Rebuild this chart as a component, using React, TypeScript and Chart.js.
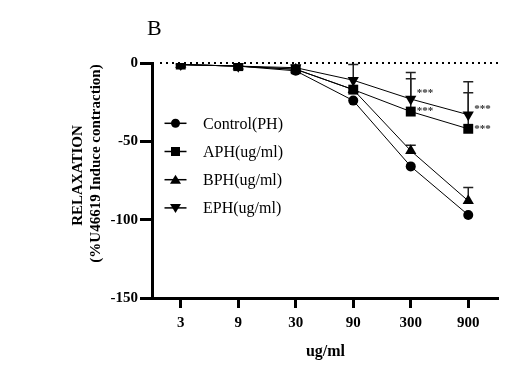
import React, { useEffect, useRef } from "react";
import { Chart, registerables } from "chart.js";

Chart.register(...registerables);

const categories = ["3", "9", "30", "90", "300", "900"];
const yTicks = [0, -50, -100, -150];

const controlValues = [-1, -2, -5, -24, -66, -97];
const aphValues = [-1, -2, -4, -17, -31, -42];
const bphValues = [-1, -2, -4, -17, -56, -88];
const ephValues = [-1, -2, -3, -11, -23, -33];

const controlErr = [0, 0, 0, 0, 0, 0];
const aphErr = [0, 0, 0, 0, 21, 23];
const bphErr = [0, 0, 0, 0, 3.5, 8.5];
const ephErr = [0, 0, 0, 10, 17, 21];

const controlSig = ["", "", "", "", "", ""];
const aphSig = ["", "", "", "", "***", "***"];
const bphSig = ["", "", "", "", "", ""];
const ephSig = ["", "", "", "", "***", "***"];

const seriesNames = ["Control(PH)", "APH(ug/ml)", "BPH(ug/ml)", "EPH(ug/ml)"];

const SERIF = "'Liberation Serif', 'Times New Roman', serif";

function drawMarker(ctx: CanvasRenderingContext2D, kind: string, x: number, y: number, s: number) {
  ctx.beginPath();
  if (kind === "circle") {
    ctx.arc(x, y, s, 0, Math.PI * 2);
  } else if (kind === "rect") {
    ctx.rect(x - s, y - s, 2 * s, 2 * s);
  } else if (kind === "up") {
    ctx.moveTo(x, y - s);
    ctx.lineTo(x + s * 1.1, y + s * 0.8);
    ctx.lineTo(x - s * 1.1, y + s * 0.8);
    ctx.closePath();
  } else {
    ctx.moveTo(x, y + s);
    ctx.lineTo(x + s * 1.1, y - s * 0.8);
    ctx.lineTo(x - s * 1.1, y - s * 0.8);
    ctx.closePath();
  }
  ctx.fill();
}

const customPlugin = {
  id: "custom",
  beforeDatasetsDraw(chart: any) {
    const { ctx, chartArea, scales } = chart;
    const y0 = scales.y.getPixelForValue(0);
    ctx.save();
    // dotted zero line
    ctx.strokeStyle = "#000";
    ctx.lineWidth = 2;
    ctx.setLineDash([2, 4]);
    ctx.beginPath();
    ctx.moveTo(chartArea.left + 8, y0);
    ctx.lineTo(chartArea.right + 2, y0);
    ctx.stroke();
    ctx.setLineDash([]);
    // error bars (upward)
    const errs = [controlErr, aphErr, bphErr, ephErr];
    chart.data.datasets.forEach((ds: any, di: number) => {
      const e = errs[di];
      ds.data.forEach((v: number, i: number) => {
        if (!e[i]) return;
        const x = scales.x.getPixelForValue(i);
        const yv = scales.y.getPixelForValue(v);
        const yt = scales.y.getPixelForValue(v + e[i]);
        ctx.strokeStyle = "#222";
        ctx.lineWidth = 1.5;
        ctx.beginPath();
        ctx.moveTo(x, yv);
        ctx.lineTo(x, yt);
        ctx.moveTo(x - 5, yt);
        ctx.lineTo(x + 5, yt);
        ctx.stroke();
      });
    });
    ctx.restore();
  },
  afterDatasetsDraw(chart: any) {
    const { ctx, chartArea, scales } = chart;
    ctx.save();
    // significance stars
    const sigs = [controlSig, aphSig, bphSig, ephSig];
    const dys = [0, -2, 0, -8];
    ctx.font = `bold 11px ${SERIF}`;
    ctx.fillStyle = "#333";
    ctx.textAlign = "left";
    ctx.textBaseline = "middle";
    chart.data.datasets.forEach((ds: any, di: number) => {
      ds.data.forEach((v: number, i: number) => {
        const s = sigs[di][i];
        if (!s) return;
        const x = scales.x.getPixelForValue(i);
        const y = scales.y.getPixelForValue(v);
        ctx.fillText(s, x + 6, y + dys[di] + 2);
      });
    });
    // legend
    const kinds = ["circle", "rect", "up", "down"];
    const sizes = [4.5, 4.5, 5, 5];
    const lx = chartArea.left + 23.5;
    const ly = chartArea.top + 60.3;
    ctx.font = `16px ${SERIF}`;
    ctx.fillStyle = "#000";
    ctx.strokeStyle = "#000";
    ctx.textBaseline = "middle";
    seriesNames.forEach((name, i) => {
      const y = ly + i * 28.2;
      ctx.lineWidth = 1.5;
      ctx.beginPath();
      ctx.moveTo(lx - 11, y);
      ctx.lineTo(lx + 11, y);
      ctx.stroke();
      drawMarker(ctx, kinds[i], lx, y, sizes[i]);
      ctx.fillText(name, lx + 27.5, y + 1);
    });
    // y axis title
    const cy = (chartArea.top + chartArea.bottom) / 2;
    ctx.font = `bold 15px ${SERIF}`;
    ctx.textAlign = "center";
    ctx.textBaseline = "middle";
    ctx.save();
    ctx.translate(78, cy - 5);
    ctx.rotate(-Math.PI / 2);
    ctx.fillText("RELAXATION", 0, 0);
    ctx.restore();
    ctx.save();
    ctx.translate(96, cy - 17);
    ctx.rotate(-Math.PI / 2);
    ctx.fillText("(%U46619 Induce contraction)", 0, 0);
    ctx.restore();
    // x axis title
    ctx.font = `bold 16px ${SERIF}`;
    ctx.fillText("ug/ml", (chartArea.left + chartArea.right) / 2 + 1, 352);
    // panel letter
    ctx.font = `22px ${SERIF}`;
    ctx.textAlign = "left";
    ctx.textBaseline = "alphabetic";
    ctx.fillText("B", 147, 35);
    ctx.restore();
  },
};

export default function App() {
  const ref = useRef<HTMLCanvasElement | null>(null);
  useEffect(() => {
    if (!ref.current) return;
    const mk = (label: string, data: number[], style: string, radius: number, rot = 0) => ({
      label,
      data,
      borderColor: "#000",
      backgroundColor: "#000",
      borderWidth: 1,
      pointStyle: style,
      pointRadius: radius,
      pointRotation: rot,
      pointBorderWidth: 0,
      pointBackgroundColor: "#000",
      tension: 0,
      fill: false,
    });
    const chart = new Chart(ref.current, {
      type: "line",
      data: {
        labels: categories,
        datasets: [
          mk(seriesNames[0], controlValues, "circle", 5),
          mk(seriesNames[1], aphValues, "rect", 7),
          mk(seriesNames[2], bphValues, "triangle", 6.5),
          mk(seriesNames[3], ephValues, "triangle", 6.5, 180),
        ],
      },
      options: {
        animation: false,
        responsive: true,
        maintainAspectRatio: false,
        events: [],
        layout: { padding: { top: 63, right: 27, left: 0, bottom: 0 } },
        plugins: {
          legend: { display: false },
          tooltip: { enabled: false },
          title: { display: false },
        },
        scales: {
          x: {
            type: "category",
            offset: true,
            grid: {
              display: true,
              drawOnChartArea: false,
              drawTicks: true,
              tickLength: 10,
              lineWidth: 3,
              color: "#000",
              offset: false,
            },
            border: { display: true, width: 3, color: "#000" },
            ticks: {
              color: "#000",
              padding: 6,
              font: { family: SERIF, size: 15, weight: "bold" },
              maxRotation: 0,
            },
            afterFit: (scale: any) => {
              scale.height = 68;
            },
          },
          y: {
            type: "linear",
            min: -150,
            max: 0,
            afterBuildTicks: (scale: any) => {
              scale.ticks = yTicks.map((v) => ({ value: v }));
            },
            grid: {
              display: true,
              drawOnChartArea: false,
              drawTicks: true,
              tickLength: 12,
              lineWidth: 3,
              color: "#000",
            },
            border: { display: true, width: 3, color: "#000" },
            ticks: {
              color: "#000",
              padding: 2,
              font: { family: SERIF, size: 15, weight: "bold" },
            },
            afterFit: (scale: any) => {
              scale.width = 152;
            },
          },
        },
      },
      plugins: [customPlugin],
    } as any);
    return () => chart.destroy();
  }, []);
  return (
    <div style={{ position: "fixed", left: 0, top: 0, width: 524, height: 366, background: "#fff" }}>
      <canvas ref={ref} />
    </div>
  );
}
